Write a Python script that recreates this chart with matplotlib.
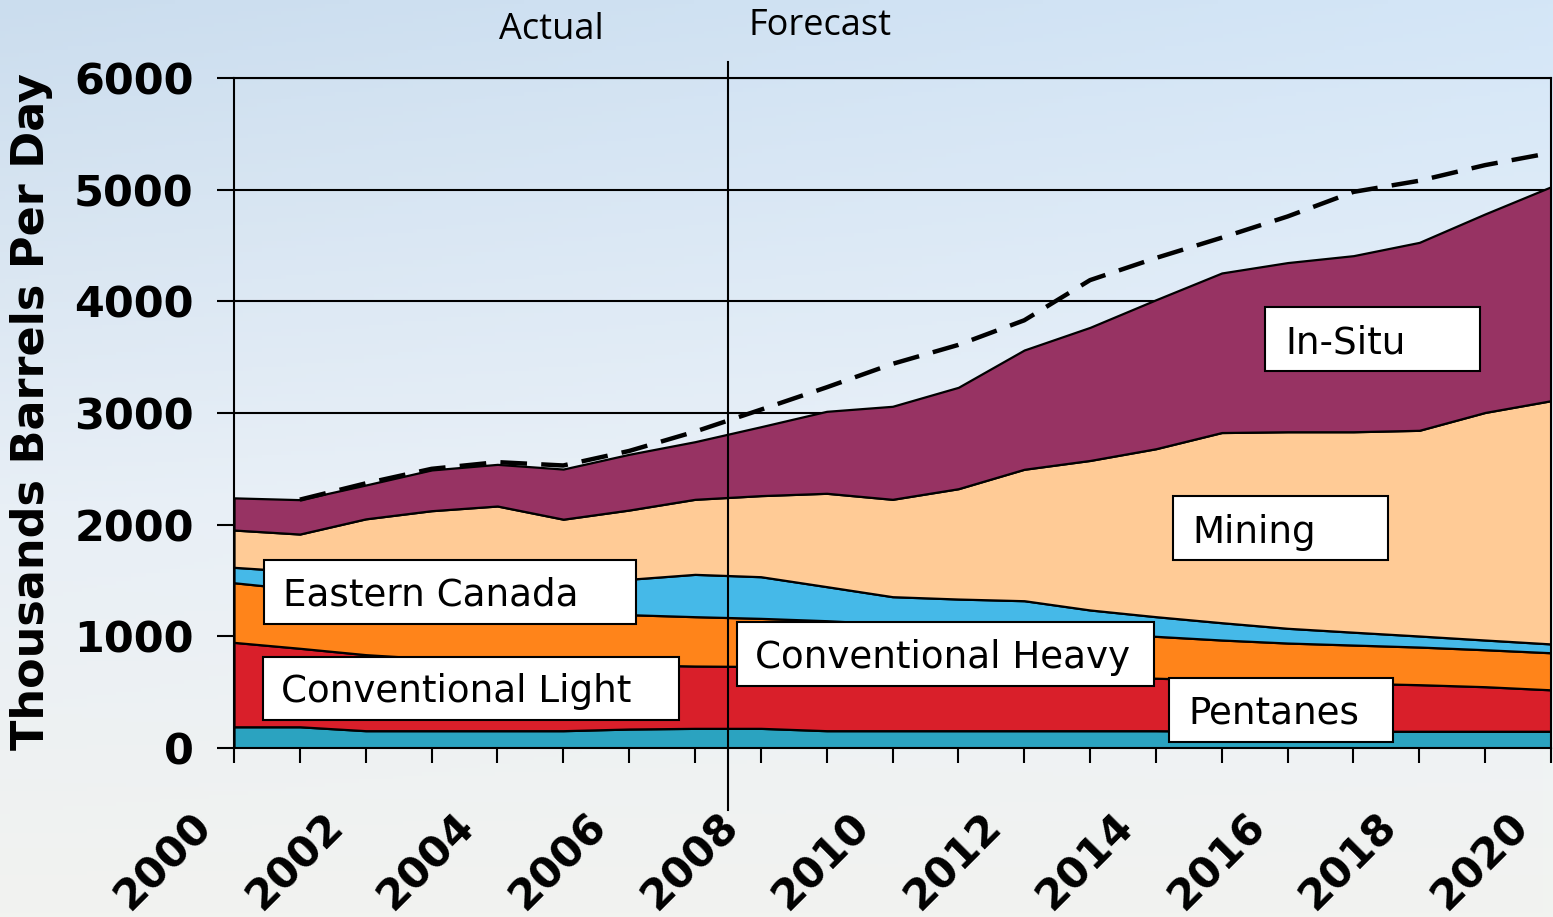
import numpy as np
import matplotlib
matplotlib.use("Agg")
import matplotlib.pyplot as plt
from matplotlib.patches import Rectangle
from matplotlib.transforms import ScaledTranslation

# ---------------- data ----------------
years = list(range(2000, 2021))
pentanes = [190, 190, 155, 155, 155, 155, 170, 176, 176, 155, 155,
            155, 155, 155, 155, 150, 150, 150, 150, 150, 150]
conventional_light = [756, 703, 681, 645, 625, 605, 575, 558, 554, 560, 545,
                      525, 510, 490, 470, 460, 445, 430, 417, 399, 371]
conventional_heavy = [534, 527, 514, 500, 480, 460, 449, 442, 431, 425, 410,
                      400, 385, 380, 375, 357, 345, 342, 337, 331, 332]
eastern_canada = [138, 160, 200, 230, 260, 290, 317, 379, 373, 305, 245,
                  254, 269, 211, 176, 155, 132, 115, 99, 87, 79]
mining = [334, 336, 502, 595, 647, 539, 620, 672, 726, 836, 872,
          988, 1177, 1339, 1504, 1703, 1760, 1795, 1842, 2038, 2178]
in_situ = [288, 308, 303, 365, 373, 449, 499, 516, 617, 734, 833,
           908, 1068, 1192, 1334, 1429, 1515, 1577, 1683, 1778, 1916]

forecast_years = list(range(2001, 2021))
forecast_total = [2224, 2370, 2500, 2560, 2530, 2660, 2833, 3030, 3230, 3440,
                  3610, 3830, 4190, 4388, 4570, 4760, 4980, 5080, 5220, 5330]

series_names = ["Pentanes", "Conventional Light", "Conventional Heavy",
                "Eastern Canada", "Mining", "In-Situ"]
colors = ["#2ba3c0", "#d91f2a", "#ff841a", "#45b9e8", "#ffcb96", "#973363"]

y_ticks = [0, 1000, 2000, 3000, 4000, 5000, 6000]
x_major = list(range(2000, 2021, 2))

# ---------------- figure ----------------
W, H = 1553, 917
fig = plt.figure(figsize=(W / 100, H / 100), dpi=100)

# sky-like background gradient
ny, nx = 240, 320
t = np.linspace(0, 1, ny)[:, None, None]
xx = np.linspace(0, 1, nx)[None, :, None]
top = np.array([203, 221, 238]) / 255
mid = np.array([232, 239, 246]) / 255
bot = np.array([242, 243, 240]) / 255
img = np.where(t < 0.55, top + (mid - top) * (t / 0.55),
               mid + (bot - mid) * ((t - 0.55) / 0.45))
img = img + 0.035 * xx * (1 - t)
img = np.clip(img, 0, 1)
bgax = fig.add_axes([0, 0, 1, 1])
bgax.imshow(img, aspect="auto", extent=[0, 1, 0, 1], origin="upper")
bgax.set_axis_off()
bgax.set_zorder(-5)

L, R, T, B = 234, 1551, 78, 748
ax = fig.add_axes([L / W, 1 - B / H, (R - L) / W, (B - T) / H])
ax.set_facecolor("none")

ax.stackplot(years, pentanes, conventional_light, conventional_heavy,
             eastern_canada, mining, in_situ, colors=colors,
             edgecolor="black", linewidth=1.6, labels=series_names)
ax.plot(forecast_years, forecast_total, color="black", lw=3.2,
        dashes=(6, 3.2), zorder=3)

ax.set_xlim(2000, 2020)
ax.set_ylim(0, 6000)
ax.set_yticks(y_ticks)
ax.set_yticklabels([str(v) for v in y_ticks])
ax.yaxis.grid(True, color="black", lw=1.5)
ax.set_axisbelow(True)
for s in ax.spines.values():
    s.set_linewidth(1.5)
    s.set_color("black")

ax.set_xticks(x_major)
ax.set_xticklabels([str(y) for y in x_major])
ax.set_xticks(years, minor=True)
ax.tick_params(axis="y", direction="out", length=12, width=1.5, pad=17,
               labelsize=31, colors="black")
ax.tick_params(axis="x", which="both", direction="out", length=11, width=1.5,
               pad=30, labelsize=30.5)
for lab in ax.get_yticklabels():
    lab.set_fontweight("bold")
for lab in ax.get_xticklabels():
    lab.set_fontweight("bold")
    lab.set_rotation(45)
    lab.set_ha("right")
    lab.set_va("top")
    lab.set_transform(lab.get_transform() +
                      ScaledTranslation(-14 / 100, 0, fig.dpi_scale_trans))

# actual / forecast divider
ax.axvline(2007.5, ymin=-0.0925, ymax=1.024, clip_on=False, color="black",
           lw=1.5, zorder=4)
fig.text(551 / W, 1 - 39 / H, "Actual", ha="center", va="baseline",
         fontsize=26, family="Open Sans")
fig.text(820 / W, 1 - 35 / H, "Forecast", ha="center", va="baseline",
         fontsize=26, family="Open Sans")

fig.text(32 / W, 1 - 412 / H, "Thousands Barrels Per Day", rotation=90,
         ha="center", va="center", fontsize=32, fontweight="bold")

# series label boxes (pixel layout)
boxes = [
    ((264, 560, 636, 624), "Eastern Canada", 283, 606),
    ((263, 657, 679, 720), "Conventional Light", 281, 702),
    ((737, 622, 1154, 686), "Conventional Heavy", 755, 668),
    ((1169, 678, 1393, 742), "Pentanes", 1188, 724),
    ((1173, 496, 1388, 560), "Mining", 1192, 543),
    ((1265, 307, 1480, 371), "In-Situ", 1285, 354),
]
for (x0, y0, x1, y1), txt, tx, ty in boxes:
    fig.add_artist(Rectangle((x0 / W, 1 - y1 / H), (x1 - x0) / W,
                             (y1 - y0) / H, transform=fig.transFigure,
                             facecolor="white", edgecolor="black", lw=1.5,
                             zorder=5))
    fig.text(tx / W, 1 - ty / H, txt, ha="left", va="baseline",
             fontsize=26.8, zorder=6, color="black")

fig.savefig("out.png", dpi=100)
